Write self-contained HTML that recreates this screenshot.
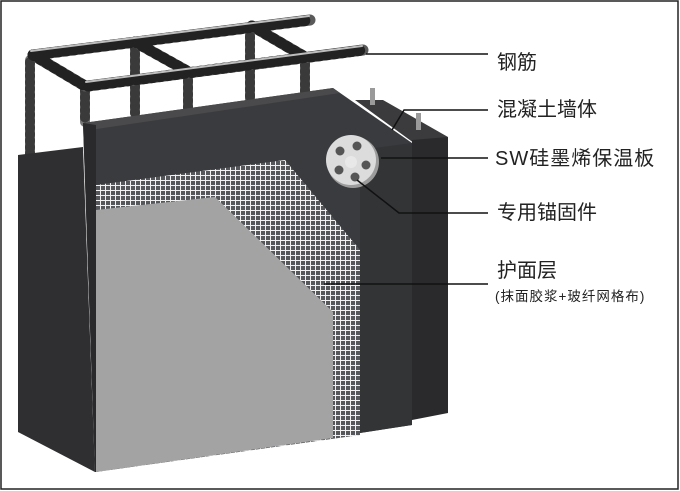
<!DOCTYPE html>
<html><head><meta charset="utf-8"><style>
html,body{margin:0;padding:0;background:#fff}
svg{display:block}
text{font-family:"Liberation Sans","Noto Sans CJK SC",sans-serif;fill:#222}
</style></head><body>
<svg width="680" height="491" viewBox="0 0 680 491" xmlns="http://www.w3.org/2000/svg">
<defs>
<pattern id="mesh" width="5" height="5" patternUnits="userSpaceOnUse">
<path d="M0 0.5H5M0.5 0V5" stroke="#f2f2f2" stroke-width="1"/>
</pattern>
</defs>
<rect x="1" y="1" width="677" height="488" fill="#fff" stroke="#222" stroke-width="1.5"/>
<!-- rebars -->
<g stroke-linecap="round" fill="none">
<g stroke="#777" stroke-width="10">
<line x1="30" y1="60" x2="30" y2="155"/>
<line x1="135" y1="45" x2="135" y2="113"/>
<line x1="250" y1="28" x2="250" y2="100"/>
<line x1="305" y1="62" x2="305" y2="92"/>
<line x1="188" y1="72" x2="188" y2="108"/>
<line x1="85" y1="88" x2="85" y2="122"/>
</g>
<g stroke="#3a3a3a" stroke-width="10" stroke-dasharray="1.5 5">
<line x1="30" y1="62" x2="30" y2="155"/>
<line x1="135" y1="47" x2="135" y2="113"/>
<line x1="250" y1="30" x2="250" y2="100"/>
<line x1="305" y1="64" x2="305" y2="92"/>
<line x1="188" y1="74" x2="188" y2="108"/>
<line x1="85" y1="90" x2="85" y2="122"/>
</g>
<g stroke="#5a5a5a" stroke-width="11">
<line x1="33" y1="55" x2="310" y2="20"/>
<line x1="88" y1="86" x2="363" y2="50"/>
<line x1="33" y1="55" x2="85" y2="86"/>
<line x1="135" y1="42" x2="187" y2="71"/>
<line x1="252" y1="26" x2="305" y2="57"/>
</g>
<g stroke="#222" stroke-width="11" stroke-dasharray="2 6">
<line x1="33" y1="55" x2="310" y2="20"/>
<line x1="88" y1="86" x2="363" y2="50"/>
<line x1="33" y1="55" x2="85" y2="86"/>
<line x1="135" y1="42" x2="187" y2="71"/>
<line x1="252" y1="26" x2="305" y2="57"/>
</g>
<g stroke="#bdbdbd" stroke-width="2">
<line x1="31" y1="51" x2="309" y2="16"/>
<line x1="86" y1="82" x2="362" y2="46"/>
</g>
</g>
<!-- left side face -->
<polygon points="18,155 83,147 95,472 18,432" fill="#2f2f31"/>
<!-- wall block behind right -->
<polygon points="355,100 383,100 448,137 418,146" fill="#3b3b3d"/>
<polygon points="412,140 448,137 448,413 412,420" fill="#2a2a2c"/>
<rect x="370" y="88" width="5" height="17" fill="#9a9a9a"/>
<rect x="416" y="113" width="5" height="17" fill="#9a9a9a"/>
<!-- insulation front panel -->
<polygon points="83,123 333,88 412,143 412,425 360,433 333,438 95,472" fill="#3a3b3e"/>
<polygon points="83,123 333,88 340,93 90,130" fill="#4a4a4c"/>
<polygon points="360,150 412,143 412,425 360,433" fill="#333436"/>
<!-- mesh -->
<polygon points="96,185 285,160 360,250 360,435 96,472" fill="#56575a"/>
<polygon points="96,185 285,160 360,250 360,435 96,472" fill="url(#mesh)"/>
<!-- plaster -->
<polygon points="96,210 215,197 333,312 333,438 96,472" fill="#a3a3a3"/>
<polygon points="83,123 96,125 96,472 95,472" fill="#2a2a2c"/>
<!-- anchor disc -->
<circle cx="353" cy="162" r="26" fill="#9c9c9c"/>
<circle cx="351" cy="160" r="25" fill="#dcdcdc"/>
<g fill="#555">
<circle cx="357" cy="146" r="4.5"/><circle cx="366" cy="165" r="4.5"/>
<circle cx="355" cy="177" r="4.5"/><circle cx="339" cy="170" r="4.5"/><circle cx="340" cy="151" r="4.5"/>
</g>
<circle cx="351" cy="162" r="6" fill="#e8e8e8"/>
<!-- leader lines -->
<g stroke="#111" stroke-width="1.5" fill="none">
<polyline points="366,54 488,54"/>
<polyline points="392,130 404,110 488,110"/>
<polyline points="381,158 488,158"/>
<polyline points="357,180 399,213 488,213"/>
<polyline points="324,284 488,284"/>
</g>
<g font-size="20">
<text x="497" y="69">钢筋</text>
<text x="497" y="116">混凝土墙体</text>
<text x="495" y="165" letter-spacing="1">SW硅墨烯保温板</text>
<text x="497" y="219">专用锚固件</text>
<text x="497" y="277">护面层</text>
</g>
<text x="495" y="301" font-size="13.5" letter-spacing="1">(抹面胶浆+玻纤网格布)</text>
</svg>
</body></html>
